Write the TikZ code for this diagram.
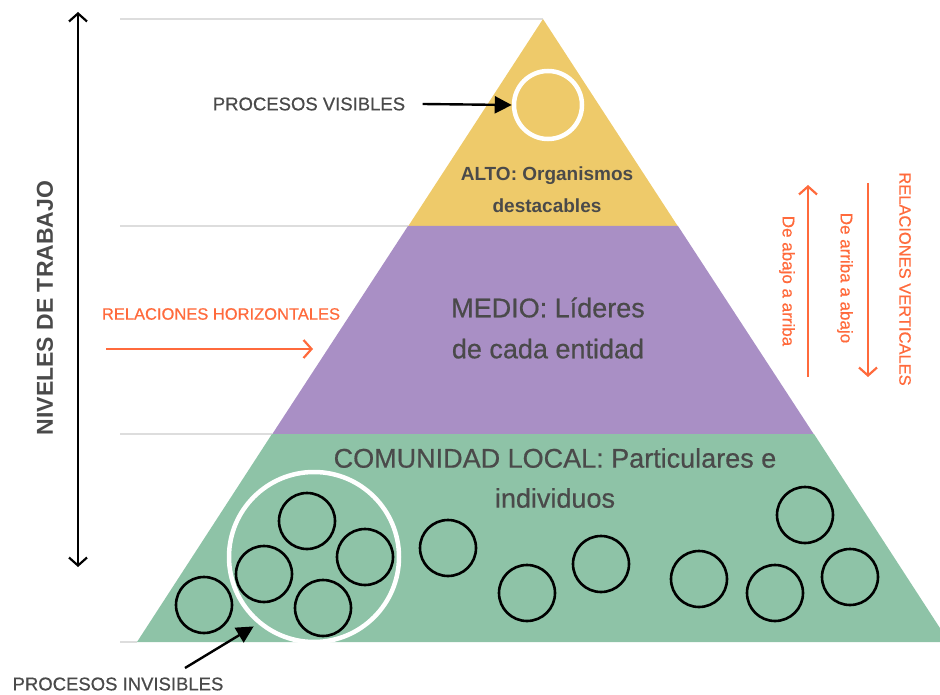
\documentclass[tikz,border=0pt]{standalone}
\usepackage{fontspec}
\setmainfont{Liberation Sans}
\newfontfamily\medfont[FakeBold=0.6]{Liberation Sans}
\usepackage{xcolor}
\usetikzlibrary{arrows.meta,calc}
\definecolor{amarillo}{HTML}{EECA6A}
\definecolor{morado}{HTML}{A98FC5}
\definecolor{verde}{HTML}{8EC3A7}
\definecolor{naranja}{HTML}{FF6A3C}
\definecolor{texto}{HTML}{4A4A4A}
\definecolor{gris}{HTML}{DDDDDD}

\begin{document}
\begin{tikzpicture}[x=1pt,y=-1pt,
		proceso/.style={draw=black,line width=2.6pt,circle,minimum size=56pt,inner sep=0pt},
		grupo/.style={draw=white,line width=4.5pt,circle,inner sep=0pt},
		guia/.style={gris,line width=1.2pt},
		flecha/.style={line width=2.4pt,-{Triangle[length=17pt,width=17pt]}},
		nivel/.style={line width=2.2pt,{Straight Barb[length=8pt,width=18pt]}-{Straight Barb[length=8pt,width=18pt]}},
		relacion/.style={naranja,line width=2.2pt,-{Straight Barb[length=8pt,width=18pt]}},
		etiqueta/.style={texto,font=\medfont\fontsize{18.5}{22}\selectfont},
		capa/.style={texto,align=center}]
		\clip (0,0) rectangle (940,695);
		% lineas guia
		\draw[guia] (120,19)--(543,19);
		\draw[guia] (120,226)--(408,226);
		\draw[guia] (120,434)--(272,434);
		\draw[guia] (120,642)--(137,642);
		% piramide
		\fill[amarillo] (543,19)--(678,226.5)--(408,226.5)--cycle;
		\fill[morado] (408,226)--(678,226)--(814,434.5)--(272,434.5)--cycle;
		\fill[verde] (272,434)--(814,434)--(949,642)--(137,642)--cycle;
		\node[capa,font=\bfseries\fontsize{19}{32}\selectfont] (alto) at (547,190) {ALTO: Organismos\\destacables};
		\node[capa,font=\medfont\fontsize{27}{41}\selectfont] (medio) at (548,328) {MEDIO: Líderes\\de cada entidad};
		\node[capa,font=\medfont\fontsize{27}{40}\selectfont] (comunidad) at (555,478) {COMUNIDAD LOCAL: Particulares e\\individuos};
		% procesos
		\node[grupo,minimum size=68pt] (visible) at (548,105) {};
		\node[grupo,minimum size=170pt] (invisible) at (314,557) {};
		\foreach \n/\x/\y in {a/204/605,b/307/521,c/264/574,d/365/557,e/323/608,f/448/548,g/527/593,h/601/564,i/699/579,j/805/515,k/775/593,l/850/577}
		\node[proceso] (p\n) at (\x,\y) {};
		\node[etiqueta] (pvis) at (309,104) {PROCESOS VISIBLES};
		\draw[flecha] ([xshift=14pt]pvis.east)--(visible.west);
		\node[etiqueta] (pinv) at (118,684) {PROCESOS INVISIBLES};
		\coordinate (pinvsal) at (185,668);
		\draw[flecha,shorten >=5pt] (pinvsal)--(invisible.230);
		% niveles
		\coordinate (nivarriba) at (78,12);
		\coordinate (nivabajo) at (78,567);
		\draw[nivel] (nivabajo)--(nivarriba);
		\node[texto,rotate=90,font=\bfseries\fontsize{23}{26}\selectfont] (niveles) at (45,308) {NIVELES DE TRABAJO};
		% relaciones
		\node[naranja,font=\medfont\fontsize{16.5}{20}\selectfont] (horiz) at (221,314) {RELACIONES HORIZONTALES};
		\coordinate (hini) at (106,349);
		\coordinate (hfin) at (313,349);
		\draw[relacion] (hini)--(hfin);
		\coordinate (subeini) at (808,377);
		\coordinate (subefin) at (808,185);
		\draw[relacion] (subeini)--(subefin);
		\coordinate (bajaini) at (868,183);
		\coordinate (bajafin) at (868,377);
		\draw[relacion] (bajaini)--(bajafin);
		\node[naranja,rotate=-90,font=\medfont\fontsize{17}{20}\selectfont] (sube) at (787,281) {De abajo a arriba};
		\node[naranja,rotate=-90,font=\medfont\fontsize{17}{20}\selectfont] (baja) at (845,278) {De arriba a abajo};
		\node[naranja,rotate=-90,font=\medfont\fontsize{16.5}{20}\selectfont] (vert) at (905,279) {RELACIONES VERTICALES};
	\end{tikzpicture}
\end{document}
